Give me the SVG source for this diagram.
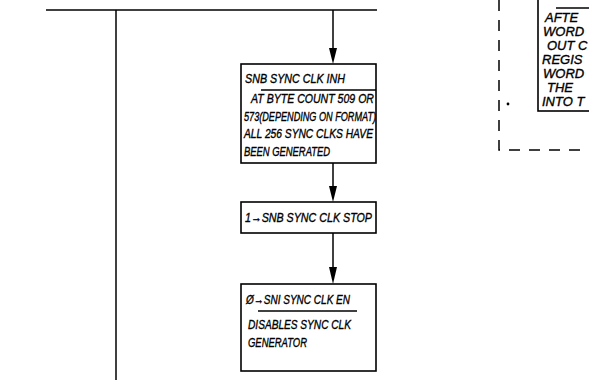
<svg xmlns="http://www.w3.org/2000/svg" width="589" height="380" viewBox="0 0 589 380">
<defs>
<style>
.ln{stroke:#000;stroke-width:1.5;fill:none}
.bx{stroke:#000;stroke-width:1.6;fill:#fff}
.dash{stroke:#000;stroke-width:1.5;fill:none;stroke-dasharray:11 9}
.t{font-family:"Liberation Sans",Arial,sans-serif;font-style:italic;font-size:12.5px;fill:#000;stroke:#000;stroke-width:0.35}
.r{font-size:13px}
</style>
</defs>
<rect width="589" height="380" fill="#fff"/>
<g id="connectors">
<line class="ln" x1="46" y1="10" x2="377" y2="10"/>
<line class="ln" x1="116" y1="10" x2="116" y2="380"/>
<path class="ln" d="M333,10 V48"/>
<path d="M329,48 L337,48 L333,64 Z" fill="#000"/>
<path class="ln" d="M333,163 V186"/>
<path d="M329,186 L337,186 L333,202 Z" fill="#000"/>
<path class="ln" d="M333,233 V267"/>
<path d="M329,267 L337,267 L333,284 Z" fill="#000"/>
<path class="dash" d="M499,0 V150 H589"/>
<circle cx="508" cy="104" r="1.4" fill="#000"/>
</g>
<g id="node-inh">
<rect class="bx" x="241" y="64" width="135" height="99"/>
<text class="t" x="245" y="83" textLength="100" lengthAdjust="spacingAndGlyphs">SNB SYNC CLK INH</text>
<line class="ln" x1="261" y1="90" x2="376" y2="90"/>
<text class="t" x="251" y="103" textLength="123" lengthAdjust="spacingAndGlyphs">AT BYTE COUNT 509 OR</text>
<text class="t" x="244" y="121" textLength="132" lengthAdjust="spacingAndGlyphs">573(DEPENDING ON FORMAT)</text>
<text class="t" x="244" y="138" textLength="129" lengthAdjust="spacingAndGlyphs">ALL 256 SYNC CLKS HAVE</text>
<text class="t" x="244" y="156" textLength="86" lengthAdjust="spacingAndGlyphs">BEEN GENERATED</text>
</g>
<g id="node-stop">
<rect class="bx" x="241" y="202" width="135" height="31"/>
<text class="t" x="245" y="222" textLength="127" lengthAdjust="spacingAndGlyphs">1→SNB SYNC CLK STOP</text>
</g>
<g id="node-en">
<rect class="bx" x="241" y="284" width="135" height="87"/>
<text class="t" x="246" y="304" textLength="104" lengthAdjust="spacingAndGlyphs">Ø→SNI SYNC CLK EN</text>
<line class="ln" x1="258" y1="311" x2="357" y2="311"/>
<text class="t" x="248" y="329" textLength="103" lengthAdjust="spacingAndGlyphs">DISABLES SYNC CLK</text>
<text class="t" x="248" y="347" textLength="59" lengthAdjust="spacingAndGlyphs">GENERATOR</text>
</g>
<g id="node-right">
<rect class="bx" x="538" y="-5" width="60" height="116"/>
<line class="ln" x1="556" y1="8" x2="589" y2="8"/>
<text class="t r" x="545" y="22">AFTE</text>
<text class="t r" x="543" y="36">WORD</text>
<text class="t r" x="547" y="50">OUT C</text>
<text class="t r" x="542" y="64">REGIS</text>
<text class="t r" x="543" y="78">WORD</text>
<text class="t r" x="547" y="92">THE</text>
<text class="t r" x="542" y="106">INTO T</text>
</g>
</svg>
